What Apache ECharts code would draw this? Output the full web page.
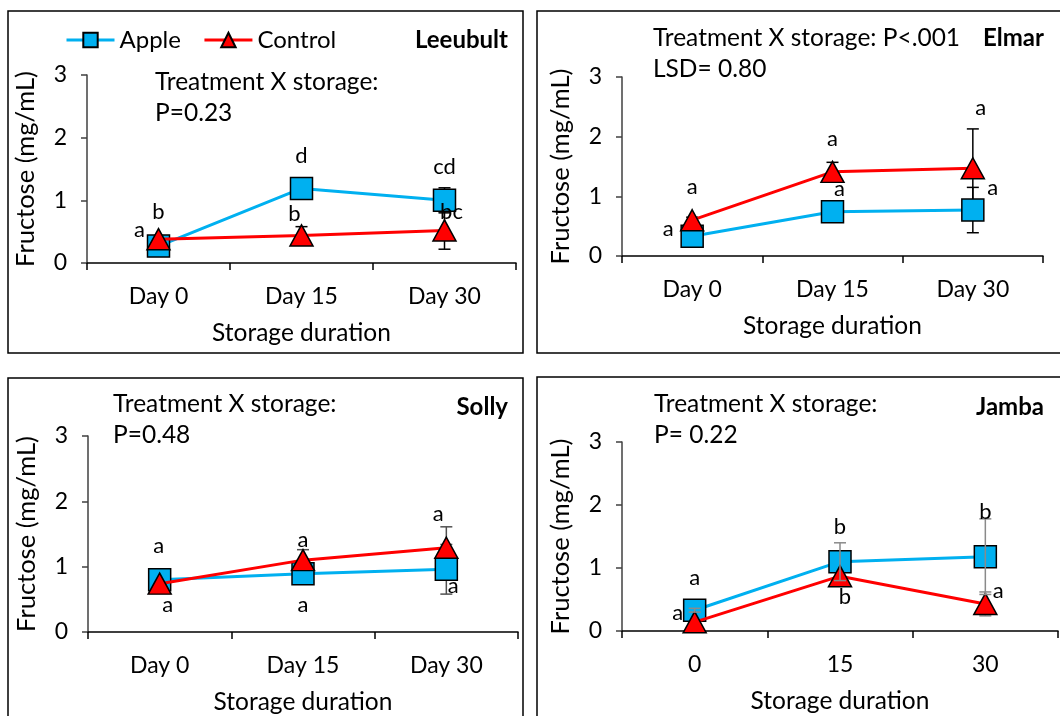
<!DOCTYPE html>
<html>
<head>
<meta charset="utf-8">
<script src="https://cdn.jsdelivr.net/npm/echarts@6/dist/echarts.min.js"></script>
<style>
  html, body { margin: 0; padding: 0; background: #fff; }
  #chart { width: 1060px; height: 716px; }
</style>
</head>
<body>
<div id="chart"></div>
<script>
// categories
var days = ['Day 0', 'Day 15', 'Day 30']
var daysJamba = ['0', '15', '30']

// fructose means (mg/mL)
var leeubultApple = [0.27, 1.19, 1.00]
var leeubultControl = [0.38, 0.44, 0.52]
var elmarApple = [0.33, 0.74, 0.77]
var elmarControl = [0.60, 1.41, 1.47]
var sollyApple = [0.80, 0.89, 0.96]
var sollyControl = [0.74, 1.10, 1.29]
var jambaApple = [0.33, 1.10, 1.18]
var jambaControl = [0.14, 0.87, 0.43]

// error bars (+/-)
var leeubultAppleErr = [0.05, 0.05, 0.20]
var leeubultControlErr = [0.05, 0.14, 0.30]
var elmarAppleErr = [0.05, 0.08, 0.38]
var elmarControlErr = [0.05, 0.16, 0.66]
var sollyAppleErr = [0.10, 0.10, 0.38]
var sollyControlErr = [0.05, 0.16, 0.32]
var jambaAppleErr = [0.03, 0.30, 0.60]
var jambaControlErr = [0.03, 0.08, 0.19]

// significance letters
var leeubultAppleLetters = ['a', 'd', 'cd']
var leeubultControlLetters = ['b', 'b', 'bc']
var elmarAppleLetters = ['a', 'a', 'a']
var elmarControlLetters = ['a', 'a', 'a']
var sollyAppleLetters = ['a', 'a', 'a']
var sollyControlLetters = ['a', 'a', 'a']
var jambaAppleLetters = ['a', 'b', 'b']
var jambaControlLetters = ['a', 'b', 'a']

var yTicks = [0, 1, 2, 3]

var FONT = 'Lato'
var BLUE = '#00B0F0'
var RED = '#FF0000'

var panels = [
  {
    name: 'Leeubult', cats: days, apple: leeubultApple, control: leeubultControl,
    appleErr: leeubultAppleErr, controlErr: leeubultControlErr,
    appleLetters: leeubultAppleLetters, controlLetters: leeubultControlLetters,
    note: ['Treatment X storage:', 'P=0.23'],
    grid: { left: 87, top: 75, width: 429, height: 188 },
    box: [8, 11, 515, 342], noteXY: [155, 82], nameXY: [508, 40],
    errColor: '#000', appleErrTop: false,
    appleOff: [[-19, -16], [0, -33], [0, -33]],
    controlOff: [[0, -27], [-7, -22], [7, -19]]
  },
  {
    name: 'Elmar', cats: days, apple: elmarApple, control: elmarControl,
    appleErr: elmarAppleErr, controlErr: elmarControlErr,
    appleLetters: elmarAppleLetters, controlLetters: elmarControlLetters,
    note: ['Treatment X storage: P<.001', 'LSD= 0.80'],
    grid: { left: 622, top: 77, width: 421, height: 179 },
    box: [537, 11, 540, 342], noteXY: [653, 38], nameXY: [1044, 38],
    errColor: '#000', appleErrTop: false,
    appleOff: [[-24, -7], [7, -23], [20, -22]],
    controlOff: [[0, -33], [0, -33], [8, -60]]
  },
  {
    name: 'Solly', cats: days, apple: sollyApple, control: sollyControl,
    appleErr: sollyAppleErr, controlErr: sollyControlErr,
    appleLetters: sollyAppleLetters, controlLetters: sollyControlLetters,
    note: ['Treatment X storage:', 'P=0.48'],
    grid: { left: 88, top: 436, width: 430, height: 196 },
    box: [8, 378, 515, 360], noteXY: [113, 404], nameXY: [508, 407],
    errColor: '#505050', appleErrTop: false,
    appleOff: [[8, 25], [0, 31], [7, 17]],
    controlOff: [[-1, -38], [0, -20], [-8, -34]]
  },
  {
    name: 'Jamba', cats: daysJamba, apple: jambaApple, control: jambaControl,
    appleErr: jambaAppleErr, controlErr: jambaControlErr,
    appleLetters: jambaAppleLetters, controlLetters: jambaControlLetters,
    note: ['Treatment X storage:', 'P= 0.22'],
    grid: { left: 622, top: 442, width: 436, height: 189 },
    box: [537, 377, 540, 360], noteXY: [654, 404], nameXY: [1044, 407],
    errColor: '#8a8a8a', appleErrTop: true,
    appleOff: [[0, -32], [0, -35], [0, -45]],
    controlOff: [[-17, -9], [5, 21], [13, -13]]
  }
]

function errorBars(idx, means, errs, color, z) {
  return {
    type: 'custom',
    xAxisIndex: idx,
    yAxisIndex: idx,
    z: z,
    silent: true,
    data: means.map(function(m, i) { return [i, m, errs[i]] }),
    renderItem: function(params, api) {
      var top = api.coord([api.value(0), api.value(1) + api.value(2)])
      var bot = api.coord([api.value(0), api.value(1) - api.value(2)])
      var st = { stroke: color, lineWidth: 1.5 }
      return {
        type: 'group',
        children: [
          { type: 'line', shape: { x1: top[0], y1: top[1], x2: bot[0], y2: bot[1] }, style: st },
          { type: 'line', shape: { x1: top[0] - 6, y1: top[1], x2: top[0] + 6, y2: top[1] }, style: st },
          { type: 'line', shape: { x1: bot[0] - 6, y1: bot[1], x2: bot[0] + 6, y2: bot[1] }, style: st }
        ]
      }
    }
  }
}

function letterSeries(idx, means, letters, offs) {
  return {
    type: 'custom',
    xAxisIndex: idx,
    yAxisIndex: idx,
    z: 20,
    silent: true,
    data: means.map(function(m, i) { return [i, m] }),
    renderItem: function(params, api) {
      var p = api.coord([api.value(0), api.value(1)])
      var o = offs[params.dataIndex]
      return {
        type: 'text',
        x: p[0] + o[0],
        y: p[1] + o[1],
        style: {
          text: letters[params.dataIndex],
          fontFamily: FONT, fontSize: 22, fill: '#000',
          align: 'center', verticalAlign: 'middle'
        }
      }
    }
  }
}

var grids = [], xAxes = [], yAxes = [], series = [], graphics = []

panels.forEach(function(p, idx) {
  grids.push(p.grid)
  xAxes.push({
    type: 'category',
    gridIndex: idx,
    data: p.cats,
    boundaryGap: true,
    axisLine: { lineStyle: { color: '#000', width: 1.5 } },
    axisTick: { show: true, length: 7, lineStyle: { color: '#000', width: 1.5 } },
    axisLabel: { color: '#000', fontFamily: FONT, fontSize: 23, margin: 22 },
    name: 'Storage duration',
    nameLocation: 'middle',
    nameGap: 58,
    nameTextStyle: { color: '#000', fontFamily: FONT, fontSize: 24.5 }
  })
  yAxes.push({
    type: 'value',
    gridIndex: idx,
    min: 0, max: 3, interval: 1,
    splitLine: { show: false },
    axisLine: { show: true, lineStyle: { color: '#404040', width: 1.5 } },
    axisTick: { show: true, length: 6, lineStyle: { color: '#404040', width: 1.5 } },
    axisLabel: {
      color: '#000', fontFamily: FONT, fontSize: 23, margin: 20,
      formatter: function(v) { return yTicks.indexOf(v) >= 0 ? String(v) : '' }
    },
    name: 'Fructose (mg/mL)',
    nameLocation: 'middle',
    nameRotate: 90,
    nameGap: 48,
    nameTextStyle: { color: '#000', fontFamily: FONT, fontSize: 25.5, padding: [0, 0, 0, 0] }
  })

  series.push(errorBars(idx, p.apple, p.appleErr, p.errColor, p.appleErrTop ? 10 : 1))
  series.push(errorBars(idx, p.control, p.controlErr, p.errColor, 1))

  series.push({
    name: 'Apple',
    type: 'line',
    xAxisIndex: idx, yAxisIndex: idx,
    z: 3,
    data: p.apple,
    symbol: 'rect',
    symbolSize: 22,
    showAllSymbol: true,
    lineStyle: { color: BLUE, width: 3 },
    itemStyle: { color: BLUE, borderColor: '#000', borderWidth: 1.5 },
    animation: false
  })
  series.push({
    name: 'Control',
    type: 'line',
    xAxisIndex: idx, yAxisIndex: idx,
    z: 4,
    data: p.control,
    symbol: 'triangle',
    symbolSize: [23, 21],
    showAllSymbol: true,
    lineStyle: { color: RED, width: 3 },
    itemStyle: { color: RED, borderColor: '#000', borderWidth: 1.5 },
    animation: false
  })
  series.push(letterSeries(idx, p.apple, p.appleLetters, p.appleOff))
  series.push(letterSeries(idx, p.control, p.controlLetters, p.controlOff))

  graphics.push({
    type: 'rect',
    shape: { x: p.box[0], y: p.box[1], width: p.box[2], height: p.box[3] },
    style: { fill: 'none', stroke: '#000', lineWidth: 1.5 },
    z: 0
  })
  graphics.push({
    type: 'text',
    x: p.nameXY[0], y: p.nameXY[1],
    style: {
      text: p.name, fontFamily: FONT, fontWeight: 'bold', fontSize: 24,
      fill: '#000', align: 'right', verticalAlign: 'middle'
    }
  })
  graphics.push({
    type: 'text',
    x: p.noteXY[0], y: p.noteXY[1],
    style: {
      text: p.note[0], fontFamily: FONT, fontSize: 24.5,
      fill: '#000', align: 'left', verticalAlign: 'middle'
    }
  })
  graphics.push({
    type: 'text',
    x: p.noteXY[0], y: p.noteXY[1] + 31,
    style: {
      text: p.note[1], fontFamily: FONT, fontSize: 24.5,
      fill: '#000', align: 'left', verticalAlign: 'middle'
    }
  })
})

var chart = echarts.init(document.getElementById('chart'))
chart.setOption({
  animation: false,
  backgroundColor: '#fff',
  legend: {
    data: ['Apple', 'Control'],
    left: 60,
    top: 23,
    itemWidth: 48,
    itemHeight: 18,
    itemGap: 22,
    lineStyle: { width: 3 },
    textStyle: { color: '#000', fontFamily: FONT, fontSize: 24 }
  },
  grid: grids,
  xAxis: xAxes,
  yAxis: yAxes,
  series: series,
  graphic: graphics
})
</script>
</body>
</html>
